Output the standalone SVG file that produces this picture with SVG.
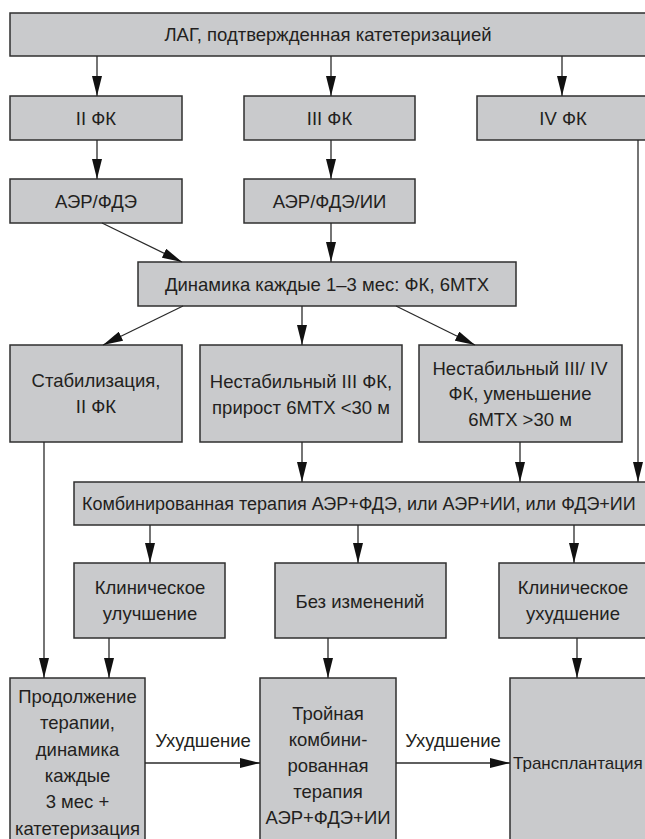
<svg xmlns="http://www.w3.org/2000/svg" width="645" height="839" viewBox="0 0 645 839">
<style>
.b{fill:#c9cacc;stroke:#2f2f2f;stroke-width:1.5}
.t{font-family:"Liberation Sans",Arial,sans-serif;font-size:18.5px;fill:#231f20;text-anchor:middle}
.s{text-anchor:start}
.c{stroke:#2a2a2a;stroke-width:1.3;fill:none;marker-end:url(#ah)}
</style>
<defs>
<marker id="ah" markerUnits="userSpaceOnUse" markerWidth="20" markerHeight="10" refX="20" refY="5" orient="auto">
<path d="M0,0 L20,5 L0,10 z" fill="#111"/>
</marker>
</defs>
<rect width="645" height="839" fill="#fff"/>
<g id="n-lag"><rect class="b" x="10" y="13" width="636" height="43"/><text class="t" x="328" y="40.5">ЛАГ, подтвержденная катетеризацией</text></g>
<g id="n-fk2"><rect class="b" x="10" y="96" width="172" height="44"/><text class="t" x="96" y="124.5">II ФК</text></g>
<g id="n-fk3"><rect class="b" x="244" y="96" width="171" height="44"/><text class="t" x="329.5" y="124.5">III ФК</text></g>
<g id="n-fk4"><rect class="b" x="477" y="96" width="169" height="44"/><text class="t" x="563" y="124.5">IV ФК</text></g>
<g id="n-aer1"><rect class="b" x="10" y="179" width="172" height="44"/><text class="t" x="96" y="207.5">АЭР/ФДЭ</text></g>
<g id="n-aer2"><rect class="b" x="244" y="179" width="171" height="44"/><text class="t" x="329.5" y="207.5">АЭР/ФДЭ/ИИ</text></g>
<g id="n-dyn"><rect class="b" x="138" y="262" width="378" height="44"/><text class="t" x="327" y="290.5">Динамика каждые 1–3 мес: ФК, 6МТХ</text></g>
<g id="n-stab"><rect class="b" x="10" y="345" width="172" height="97"/><text class="t" x="96" y="387">Стабилизация,</text><text class="t" x="96" y="413">II ФК</text></g>
<g id="n-unst3"><rect class="b" x="200" y="345" width="202" height="97"/><text class="t" x="301" y="387.5">Нестабильный III ФК,</text><text class="t" x="301" y="413.5">прирост 6МТХ &lt;30 м</text></g>
<g id="n-unst34"><rect class="b" x="419" y="345" width="203" height="97"/><text class="t" x="520" y="374.5">Нестабильный III/ IV</text><text class="t" x="520" y="400">ФК, уменьшение</text><text class="t" x="520" y="425.5">6МТХ &gt;30 м</text></g>
<g id="n-comb"><rect class="b" x="74" y="482" width="572" height="43"/><text class="t s" x="82" y="510" style="font-size:18px">Комбинированная терапия АЭР+ФДЭ, или АЭР+ИИ, или ФДЭ+ИИ</text></g>
<g id="n-impr"><rect class="b" x="74" y="563" width="151" height="75"/><text class="t" x="150" y="594">Клиническое</text><text class="t" x="150" y="620">улучшение</text></g>
<g id="n-same"><rect class="b" x="275" y="563" width="171" height="75"/><text class="t" x="360" y="607.5">Без изменений</text></g>
<g id="n-worse"><rect class="b" x="499" y="563" width="147" height="75"/><text class="t" x="573" y="594">Клиническое</text><text class="t" x="573" y="620">ухудшение</text></g>
<g id="n-cont"><rect class="b" x="10" y="678" width="135" height="170"/><text class="t" x="77.5" y="702.5">Продолжение</text><text class="t" x="77.5" y="728.5">терапии,</text><text class="t" x="77.5" y="755.5">динамика</text><text class="t" x="77.5" y="781.5">каждые</text><text class="t" x="77.5" y="807.5">3 мес +</text><text class="t" x="77.5" y="834.5">катетеризация</text></g>
<g id="n-triple"><rect class="b" x="260" y="678" width="136" height="170"/><text class="t" x="328" y="719.5">Тройная</text><text class="t" x="328" y="745.5">комбини-</text><text class="t" x="328" y="771.5">рованная</text><text class="t" x="328" y="797.5">терапия</text><text class="t" x="328" y="823.5">АЭР+ФДЭ+ИИ</text></g>
<g id="n-tx"><rect class="b" x="510" y="678" width="136" height="170"/><text class="t s" x="513" y="769" style="font-size:17px">Трансплантация</text></g>
<g id="connectors">
<line class="c" x1="97" y1="56" x2="97" y2="96"/>
<line class="c" x1="331" y1="56" x2="331" y2="96"/>
<line class="c" x1="562" y1="56" x2="562" y2="96"/>
<line class="c" x1="97" y1="140" x2="97" y2="179"/>
<line class="c" x1="331" y1="140" x2="331" y2="179"/>
<line class="c" x1="638" y1="140" x2="638" y2="482"/>
<line class="c" x1="102" y1="223" x2="182" y2="262"/>
<line class="c" x1="331" y1="223" x2="331" y2="262"/>
<line class="c" x1="183" y1="306" x2="103" y2="345"/>
<line class="c" x1="302" y1="306" x2="302" y2="345"/>
<line class="c" x1="396" y1="306" x2="475" y2="345"/>
<line class="c" x1="44" y1="442" x2="44" y2="678"/>
<line class="c" x1="302" y1="442" x2="302" y2="482"/>
<line class="c" x1="520" y1="442" x2="520" y2="482"/>
<line class="c" x1="150" y1="525" x2="150" y2="563"/>
<line class="c" x1="358" y1="525" x2="358" y2="563"/>
<line class="c" x1="574" y1="525" x2="574" y2="563"/>
<line class="c" x1="109" y1="638" x2="109" y2="678"/>
<line class="c" x1="328" y1="638" x2="328" y2="678"/>
<line class="c" x1="577" y1="638" x2="577" y2="678"/>
<line class="c" x1="145" y1="763" x2="260" y2="763"/>
<line class="c" x1="396" y1="763" x2="510" y2="763"/>
<text class="t" x="203" y="746.5">Ухудшение</text>
<text class="t" x="453" y="746.5">Ухудшение</text>
</g>
</svg>
